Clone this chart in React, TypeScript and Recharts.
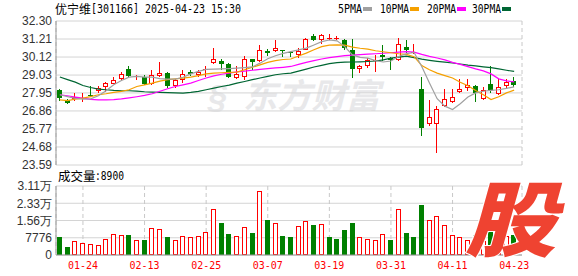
import React from 'react';
import { ComposedChart, Bar, Line, XAxis, YAxis, CartesianGrid } from 'recharts';

const dates = [
  '01-21','01-22','01-23','01-24','01-27','02-05','02-06','02-07','02-10','02-11',
  '02-12','02-13','02-14','02-17','02-18','02-19','02-20','02-21','02-24','02-25',
  '02-26','02-27','02-28','03-03','03-04','03-05','03-06','03-07','03-10','03-11',
  '03-12','03-13','03-14','03-17','03-18','03-19','03-20','03-21','03-24','03-25',
  '03-26','03-27','03-28','03-31','04-01','04-02','04-03','04-07','04-08','04-09',
  '04-10','04-11','04-14','04-15','04-16','04-17','04-18','04-21','04-22','04-23',
];

const openP = [
  28.14,27.53,27.59,27.64,27.85,28.04,28.28,28.48,28.79,29.39,
  28.93,28.91,28.50,28.95,29.15,28.34,28.75,29.19,29.01,29.37,
  29.76,29.86,29.69,28.85,28.91,30.00,29.86,30.46,30.46,30.56,
  30.42,30.22,30.56,31.41,31.17,31.21,31.25,31.17,30.56,29.39,
  29.55,29.92,30.22,30.06,29.92,30.73,30.34,28.20,26.06,26.06,
  27.13,27.39,27.99,28.22,28.38,27.57,28.50,27.90,28.38,28.68,
];
const highP = [
  28.20,27.61,27.94,27.94,28.34,28.34,28.64,28.91,29.21,29.59,
  29.01,29.05,29.35,29.80,29.19,28.79,29.31,29.35,29.35,29.55,
  30.66,30.00,29.76,29.55,30.16,30.00,30.87,30.60,31.17,30.56,
  30.46,30.66,31.27,31.51,31.51,31.53,31.41,31.23,31.21,29.65,
  30.06,30.26,30.87,30.12,31.27,31.17,30.93,28.91,27.53,27.17,
  28.20,28.20,28.79,28.79,28.44,28.28,29.55,28.79,28.79,28.89,
];
const lowP = [
  27.49,27.27,27.49,27.43,27.80,27.94,27.98,28.48,28.71,28.85,
  28.75,28.44,28.44,28.91,28.24,28.24,28.58,28.95,28.91,28.91,
  29.72,29.31,28.85,28.79,28.75,29.35,29.80,30.16,30.44,30.12,
  30.12,30.06,30.52,31.07,30.93,31.13,31.17,30.56,28.85,29.15,
  29.45,29.19,29.86,29.35,29.86,30.36,30.30,25.35,25.92,24.34,
  27.09,27.33,27.93,28.04,27.43,27.53,27.94,27.84,28.24,28.28,
];
const closeP = [
  27.63,27.37,27.69,27.66,27.83,28.24,28.58,28.74,29.11,28.95,
  28.97,28.50,29.05,29.15,28.34,28.75,29.11,29.11,29.21,29.41,
  30.00,29.69,28.91,29.11,30.00,29.82,30.56,30.36,30.66,30.46,
  30.36,30.50,31.21,31.13,31.47,31.27,31.27,30.66,29.39,29.55,
  29.92,29.96,30.12,29.92,30.93,30.56,30.40,25.82,26.48,26.97,
  27.57,27.69,28.20,28.42,27.94,28.10,28.14,28.28,28.64,28.40,
];

const volume = [
  8220,3740,6280,5390,4930,4490,7180,9420,8970,8970,
  6730,6730,12260,11660,8220,6730,8520,8070,8520,10170,
  20930,14640,9270,8380,12410,9720,28700,15700,14200,8520,
  8070,13000,15540,13460,13750,8070,7170,11210,14200,8070,
  7170,6730,9270,6730,20930,9720,8070,22720,15700,17490,
  13460,8970,8070,6730,9200,6280,10500,8380,8500,8900,
];
const volUp = [
  0,0,1,1,1,1,1,1,1,0, 1,0,1,1,0,1,1,1,1,1,
  1,0,0,1,1,0,1,0,1,0, 0,1,1,0,1,0,0,0,0,1,
  1,1,1,0,1,0,0,0,1,1, 1,1,1,1,0,1,0,1,1,0,
];

const ma5 = [
  27.84,27.73,27.62,27.57,27.59,27.78,28.08,28.44,28.70,28.90,
  28.95,28.91,28.91,28.82,28.79,28.78,28.90,29.10,29.25,29.37,
  29.39,29.40,29.42,29.45,29.48,29.52,29.75,30.02,30.20,30.34,
  30.45,30.55,30.66,30.85,31.05,31.15,31.10,30.75,30.25,30.10,
  30.05,29.90,29.82,29.88,30.15,30.32,30.40,29.55,28.55,27.60,
  27.15,26.95,27.30,27.70,27.95,28.05,28.10,28.14,28.22,28.32,
];
const ma10 = [
  27.53,27.49,27.57,27.63,27.73,27.84,27.90,27.98,28.04,28.14,
  28.34,28.44,28.54,28.66,28.75,28.80,28.84,28.90,29.00,29.10,
  29.15,29.17,29.19,29.21,29.35,29.50,29.65,29.80,29.90,29.97,
  30.00,30.18,30.36,30.56,30.75,30.84,30.86,30.84,30.72,30.65,
  30.60,30.50,30.44,30.38,30.32,30.28,30.14,29.60,29.35,29.15,
  29.00,28.85,28.60,28.38,28.10,27.84,27.55,27.72,27.95,28.12,
];
const ma20 = [
  27.84,27.78,27.70,27.63,27.56,27.53,27.53,27.55,27.59,27.65,
  27.72,27.80,27.90,28.05,28.20,28.34,28.44,28.54,28.70,28.85,
  28.98,29.08,29.15,29.22,29.27,29.32,29.37,29.42,29.46,29.50,
  29.55,29.68,29.80,29.90,30.00,30.08,30.15,30.20,30.24,30.27,
  30.30,30.32,30.35,30.38,30.42,30.45,30.42,30.28,30.16,30.06,
  29.95,29.80,29.68,29.54,29.40,29.28,29.10,28.80,28.68,28.62,
];
const ma30 = [
  28.91,28.75,28.60,28.40,28.28,28.18,28.14,28.10,28.08,28.08,
  28.06,28.02,28.00,27.98,27.97,27.95,27.94,27.98,28.04,28.14,
  28.24,28.34,28.42,28.54,28.64,28.75,28.85,28.95,29.05,29.11,
  29.15,29.27,29.39,29.52,29.62,29.72,29.78,29.81,29.82,29.83,
  29.85,29.88,29.95,30.05,30.12,30.18,30.08,29.99,29.92,29.86,
  29.81,29.76,29.70,29.63,29.58,29.53,29.48,29.40,29.32,29.25,
];

const priceTicks = [23.59, 24.68, 25.77, 26.86, 27.95, 29.03, 30.12, 31.21, 32.30];
const volTicks = [0, 7776, 15552, 23328, 31104];
const dateTicks = ['01-24', '02-13', '02-25', '03-07', '03-19', '03-31', '04-11', '04-23'];

const RED = '#ff0000';
const GREEN = '#008000';
const FRAME = '#999999';
const GRID = '#d4d4d4';
const VGRID = '#c8c8c8';
const LATIN = 'Liberation Sans, Arial, sans-serif';
const MONO = 'DejaVu Sans Mono, Liberation Mono, monospace';
const CJK = 'Noto Sans CJK SC, sans-serif';

const data = dates.map((d, i) => ({
  date: d,
  open: openP[i],
  high: highP[i],
  low: lowP[i],
  close: closeP[i],
  range: [lowP[i], highP[i]],
  vol: volume[i],
  volUp: volUp[i] === 1,
  ma5: ma5[i],
  ma10: ma10[i],
  ma20: ma20[i],
  ma30: ma30[i],
}));

const Candle = (props: any) => {
  const { x, y, width, height, payload } = props;
  if (x == null || y == null) return null;
  const o = payload.open, c = payload.close, h = payload.high, l = payload.low;
  const top = Math.min(y, y + height);
  const bot = Math.max(y, y + height);
  const k = h > l ? (bot - top) / (h - l) : 0;
  const py = (v: number) => top + (h - v) * k;
  const up = c > o;
  const color = up ? RED : GREEN;
  const cx = Math.floor(x + width / 2) + 0.5;
  const bTop = Math.round(py(Math.max(o, c)));
  const bBot = Math.round(py(Math.min(o, c)));
  const wTop = Math.round(top);
  const wBot = Math.round(bot);
  const bodyH = bBot - bTop;
  return (
    <g>
      <line x1={cx} x2={cx} y1={wTop} y2={wBot} stroke={color} strokeWidth={1} />
      {bodyH < 2 ? (
        <line x1={cx - 2.5} x2={cx + 2.5} y1={bTop + 0.5} y2={bTop + 0.5} stroke={color} strokeWidth={1} />
      ) : up ? (
        <rect x={cx - 2} y={bTop + 0.5} width={4} height={bodyH - 1} fill="#ffffff" stroke={color} strokeWidth={1} />
      ) : (
        <rect x={cx - 2.5} y={bTop} width={5} height={bodyH} fill={color} />
      )}
    </g>
  );
};

const VolBar = (props: any) => {
  const { x, y, width, height, payload } = props;
  if (x == null || y == null) return null;
  const cx = Math.floor(x + width / 2) + 0.5;
  const top = Math.round(Math.min(y, y + height));
  const bot = Math.round(Math.max(y, y + height));
  if (payload.volUp) {
    return <rect x={cx - 2} y={top + 0.5} width={4} height={Math.max(bot - top - 1, 0)} fill="#ffffff" stroke={RED} strokeWidth={1} />;
  }
  return <rect x={cx - 2.5} y={top} width={5} height={bot - top} fill={GREEN} />;
};

const DateTick = (props: any) => {
  const { x, y, payload } = props;
  return (
    <text x={x} y={y + 14} textAnchor="middle" fill={RED} fontSize={11} fontFamily={MONO} textLength={30} lengthAdjust="spacingAndGlyphs">
      {payload.value}
    </text>
  );
};

const fmtVol = (v: number) => (v === 0 ? '0' : v >= 10000 ? (v / 10000).toFixed(2) + '万' : String(v));

const legendItems = [
  { label: '5PMA', color: '#a0a0a0' },
  { label: '10PMA', color: '#f5a000' },
  { label: '20PMA', color: '#ff00ff' },
  { label: '30PMA', color: '#006633' },
];

export default function App() {
  const abs: React.CSSProperties = { position: 'absolute', left: 0 };
  return (
    <div style={{ position: 'absolute', left: 0, top: 0, width: 578, height: 276, background: '#ffffff', overflow: 'hidden' }}>
      {/* watermark */}
      <svg width={578} height={276} style={{ ...abs, top: 0 }}>
        <text x={243} y={108} fontSize={34} fontWeight={700} fontStyle="italic" fontFamily={CJK} fill="#e8e8ea" textLength={137} lengthAdjust="spacingAndGlyphs">
          东方财富
        </text>
        <text x={208} y={108} fontSize={34} fontWeight={700} fontStyle="italic" fontFamily={LATIN} fill="#e8e8ea">
          §
        </text>
      </svg>

      <div style={{ ...abs, top: 0 }}>
        <ComposedChart width={578} height={172} data={data} margin={{ top: 21, right: 56, bottom: 7, left: 0 }}>
          <CartesianGrid vertical={false} stroke={GRID} />
          <CartesianGrid horizontal={false} stroke={VGRID} strokeDasharray="4 3" />
          <XAxis dataKey="date" ticks={dateTicks} interval={0} tick={false} tickLine={false} axisLine={{ stroke: FRAME }} height={0} padding={{ left: 0, right: 4 }} />
          <XAxis xAxisId="top" dataKey="date" orientation="top" tick={false} tickLine={false} axisLine={{ stroke: FRAME }} height={0} />
          <YAxis
            domain={[23.59, 32.3]}
            ticks={priceTicks}
            allowDataOverflow
            width={56}
            tickLine={false}
            tickSize={0}
            tickMargin={4}
            axisLine={{ stroke: FRAME }}
            tickFormatter={(v: number) => v.toFixed(2)}
            tick={{ fontSize: 12, fill: '#333333', fontFamily: LATIN }}
            interval={0}
          />
          <YAxis yAxisId="right" orientation="right" domain={[0, 1]} width={0} tick={false} tickLine={false} axisLine={{ stroke: FRAME }} />
          <Bar dataKey="range" shape={Candle} barSize={5} isAnimationActive={false} />
          <Line type="linear" dataKey="ma30" stroke="#006633" strokeWidth={1.2} dot={false} isAnimationActive={false} />
          <Line type="linear" dataKey="ma20" stroke="#ff00ff" strokeWidth={1.2} dot={false} isAnimationActive={false} />
          <Line type="linear" dataKey="ma10" stroke="#f5a000" strokeWidth={1.2} dot={false} isAnimationActive={false} />
          <Line type="linear" dataKey="ma5" stroke="#a0a0a0" strokeWidth={1.2} dot={false} isAnimationActive={false} />
        </ComposedChart>
      </div>

      <div style={{ ...abs, top: 170 }}>
        <ComposedChart width={578} height={106} data={data} margin={{ top: 16, right: 56, bottom: 0, left: 0 }}>
          <CartesianGrid vertical={false} stroke={GRID} />
          <CartesianGrid horizontal={false} stroke={VGRID} strokeDasharray="4 3" />
          <XAxis
            dataKey="date"
            ticks={dateTicks}
            interval={0}
            tick={DateTick}
            tickLine={false}
            tickSize={0}
            tickMargin={0}
            axisLine={{ stroke: FRAME }}
            height={21}
            padding={{ left: 0, right: 4 }}
          />
          <XAxis xAxisId="top" dataKey="date" orientation="top" tick={false} tickLine={false} axisLine={{ stroke: FRAME }} height={0} />
          <YAxis
            domain={[0, 31104]}
            ticks={volTicks}
            allowDataOverflow
            width={56}
            tickLine={false}
            tickSize={0}
            tickMargin={4}
            axisLine={{ stroke: FRAME }}
            tickFormatter={fmtVol}
            tick={{ fontSize: 12, fill: '#333333', fontFamily: LATIN }}
            interval={0}
          />
          <YAxis yAxisId="right" orientation="right" domain={[0, 1]} width={0} tick={false} tickLine={false} axisLine={{ stroke: FRAME }} />
          <Bar dataKey="vol" shape={VolBar} barSize={5} isAnimationActive={false} />
        </ComposedChart>
      </div>

      {/* title, legend, volume label, logo */}
      <svg width={578} height={276} style={{ ...abs, top: 0, pointerEvents: 'none' }}>
        <text x={55} y={14} fontSize={12} fontFamily={CJK} fill="#000">优宁维</text>
        <text x={91} y={12.8} fontSize={12} fontFamily={MONO} fill="#000" textLength={150} lengthAdjust="spacingAndGlyphs">
          [301166] 2025-04-23 15:30
        </text>
        {(() => {
          const xs = [338, 380, 427, 472];
          const ws = [24, 29, 29, 29];
          return legendItems.map((it, i) => (
            <g key={it.label}>
              <text x={xs[i]} y={12.8} fontSize={12} fontFamily={MONO} fill="#000" textLength={ws[i]} lengthAdjust="spacingAndGlyphs">
                {it.label}
              </text>
              <rect x={xs[i] + ws[i] + 1} y={7} width={9} height={4} fill={it.color} />
            </g>
          ));
        })()}
        <text x={58} y={180.5} fontSize={12.5} fontFamily={CJK} fill="#000">成交量</text>
        <text x={95} y={180.3} fontSize={12} fontFamily={MONO} fill="#000" textLength={29} lengthAdjust="spacingAndGlyphs">
          :8900
        </text>
        <text
          x={465}
          y={250}
          fontSize={82}
          fontWeight={900}
          fontStyle="italic"
          fontFamily={CJK}
          fill="#ef4331"
          stroke="#ffffff"
          strokeWidth={2}
          paintOrder="stroke"
          textLength={91}
          lengthAdjust="spacingAndGlyphs"
        >
          股
        </text>
      </svg>
    </div>
  );
}
